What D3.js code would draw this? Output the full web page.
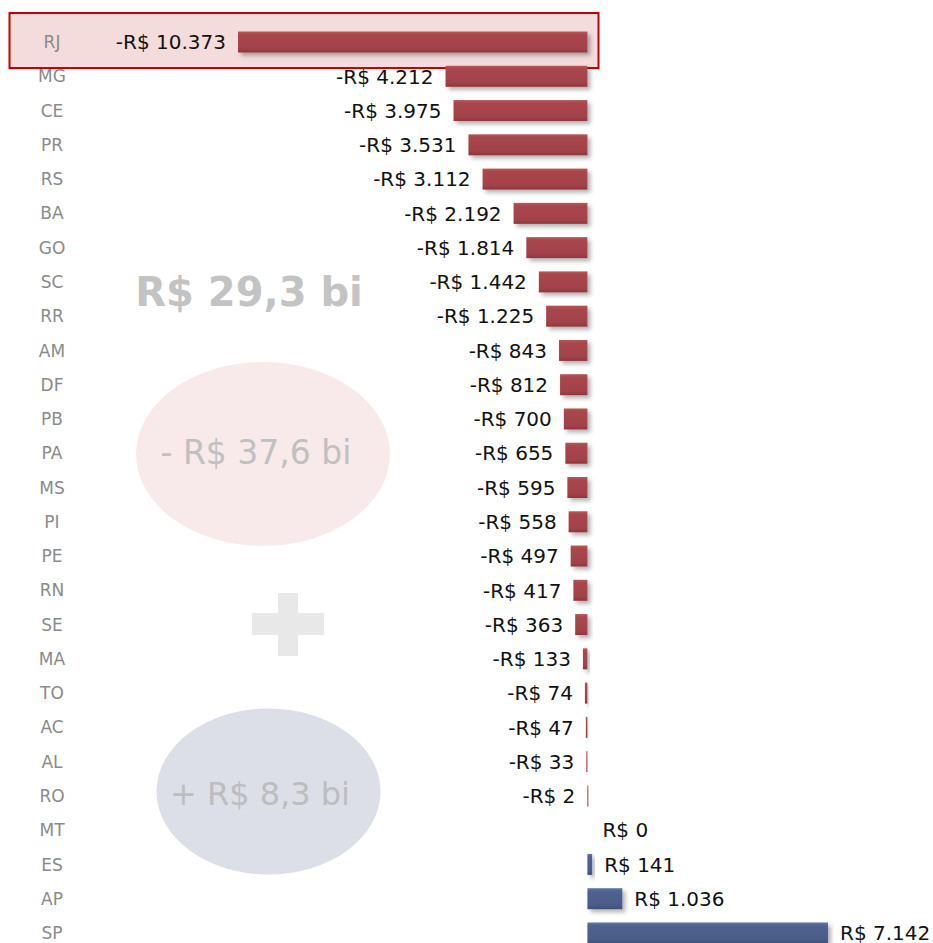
<!DOCTYPE html>
<html>
<head>
<meta charset="utf-8">
<script src="https://cdn.jsdelivr.net/npm/d3@7"></script>
<style>
  html, body { margin: 0; padding: 0; background: #fff; }
  svg { display: block; font-family: "DejaVu Sans", Verdana, sans-serif; }
</style>
</head>
<body>
<svg id="chart"></svg>
<script>
// saldo por estado (R$ milhões)
const states = ['RJ', 'MG', 'CE', 'PR', 'RS', 'BA', 'GO', 'SC', 'RR', 'AM', 'DF', 'PB', 'PA', 'MS',
  'PI', 'PE', 'RN', 'SE', 'MA', 'TO', 'AC', 'AL', 'RO', 'MT', 'ES', 'AP', 'SP']
const values = [-10373, -4212, -3975, -3531, -3112, -2192, -1814, -1442, -1225, -843, -812, -700, -655, -595,
  -558, -497, -417, -363, -133, -74, -47, -33, -2, 0, 141, 1036, 7142]
const highlight = 'RJ'
const totalLabel = 'R$ 29,3 bi'
const lossLabel = '- R$ 37,6 bi'
const gainLabel = '+ R$ 8,3 bi'

const width = 933
const height = 943
const barHeight = 21

let fmt = (v) => {
  let s = Math.abs(v).toString().replace(/\B(?=(\d{3})+(?!\d))/g, '.')
  return (v < 0 ? '-' : '') + 'R$ ' + s
}

let data = states.map((s, i) => ({ state: s, value: values[i] }))

let svg = d3.select('#chart')
  .attr('width', width)
  .attr('height', height)

let defs = svg.append('defs')
let shadow = defs.append('filter').attr('id', 'shadow')
  .attr('x', '-20%').attr('y', '-40%').attr('width', '160%').attr('height', '200%')
shadow.append('feDropShadow')
  .attr('dx', 3).attr('dy', 3).attr('stdDeviation', 2)
  .attr('flood-color', '#000').attr('flood-opacity', 0.3)

let addGrad = function (id, stops) {
  let g = defs.append('linearGradient').attr('id', id)
    .attr('x1', 0).attr('y1', 0).attr('x2', 0).attr('y2', 1)
  stops.forEach(s => g.append('stop').attr('offset', s[0]).attr('stop-color', s[1]))
}
addGrad('gradNeg', [[0, '#b8575a'], [0.15, '#a8474b'], [0.8, '#a2424a'], [1, '#8e3639']])
addGrad('gradPos', [[0, '#6579a3'], [0.15, '#4f6290'], [0.8, '#4a5c88'], [1, '#3e4f78']])

let xScale = d3.scaleLinear()
  .domain([d3.min(values), d3.max(values)])
  .range([238, 828])

let yScale = d3.scaleBand()
  .domain(states)
  .range([24.9, 950.1])
  .paddingInner(0.38)
  .paddingOuter(0.19)

let yMid = (s) => yScale(s) + yScale.bandwidth() / 2

// highlight box
svg.append('rect')
  .attr('x', 9.5)
  .attr('y', yMid(highlight) - 29)
  .attr('width', 589)
  .attr('height', 55)
  .style('fill', '#f5dcdc')
  .style('stroke', '#c00000')
  .style('stroke-width', 2)

// side summary
let side = svg.append('g').classed('summary', true)
side.append('text')
  .attr('x', 249).attr('y', 306)
  .attr('text-anchor', 'middle')
  .style('font-size', '40px')
  .style('font-weight', 'bold')
  .style('fill', '#c3c3c3')
  .text(totalLabel)
side.append('ellipse')
  .attr('cx', 263).attr('cy', 454).attr('rx', 127).attr('ry', 92)
  .style('fill', '#f8eaea')
side.append('text')
  .attr('x', 256).attr('y', 452).attr('dy', '0.36em')
  .attr('text-anchor', 'middle')
  .style('font-size', '33px')
  .style('fill', '#c0c0c0')
  .text(lossLabel)
side.append('rect')
  .attr('x', 252).attr('y', 613).attr('width', 72).attr('height', 22)
  .style('fill', '#e8e8e8')
side.append('rect')
  .attr('x', 278).attr('y', 593).attr('width', 20).attr('height', 63)
  .style('fill', '#e8e8e8')
side.append('ellipse')
  .attr('cx', 268.5).attr('cy', 791.5).attr('rx', 112).attr('ry', 83)
  .style('fill', '#dcdfe8')
side.append('text')
  .attr('x', 260).attr('y', 793).attr('dy', '0.36em')
  .attr('text-anchor', 'middle')
  .style('font-size', '32px')
  .style('fill', '#bdbdbd')
  .text(gainLabel)

// state labels
svg.append('g').classed('y-labels', true)
  .selectAll('text')
  .data(data)
  .enter()
  .append('text')
  .attr('x', 52)
  .attr('y', d => yMid(d.state))
  .attr('dy', '0.36em')
  .attr('text-anchor', 'middle')
  .style('font-size', '17px')
  .style('fill', '#8a8a8a')
  .text(d => d.state)

// bars
svg.append('g').classed('bars', true)
  .selectAll('rect')
  .data(data.filter(d => d.value !== 0))
  .enter()
  .append('rect')
  .attr('x', d => xScale(Math.min(0, d.value)))
  .attr('y', d => yMid(d.state) - barHeight / 2)
  .attr('width', d => Math.max(1, Math.abs(xScale(d.value) - xScale(0))))
  .attr('height', barHeight)
  .style('fill', d => d.value < 0 ? 'url(#gradNeg)' : 'url(#gradPos)')
  .attr('filter', 'url(#shadow)')

// value labels
svg.append('g').classed('values', true)
  .selectAll('text')
  .data(data)
  .enter()
  .append('text')
  .attr('x', d => d.value < 0 ? xScale(d.value) - 12 : xScale(d.value) + (d.value === 0 ? 15 : 12))
  .attr('y', d => yMid(d.state))
  .attr('dy', '0.36em')
  .attr('text-anchor', d => d.value < 0 ? 'end' : 'start')
  .style('font-size', '20px')
  .style('fill', '#111')
  .text(d => fmt(d.value))
</script>
</body>
</html>
